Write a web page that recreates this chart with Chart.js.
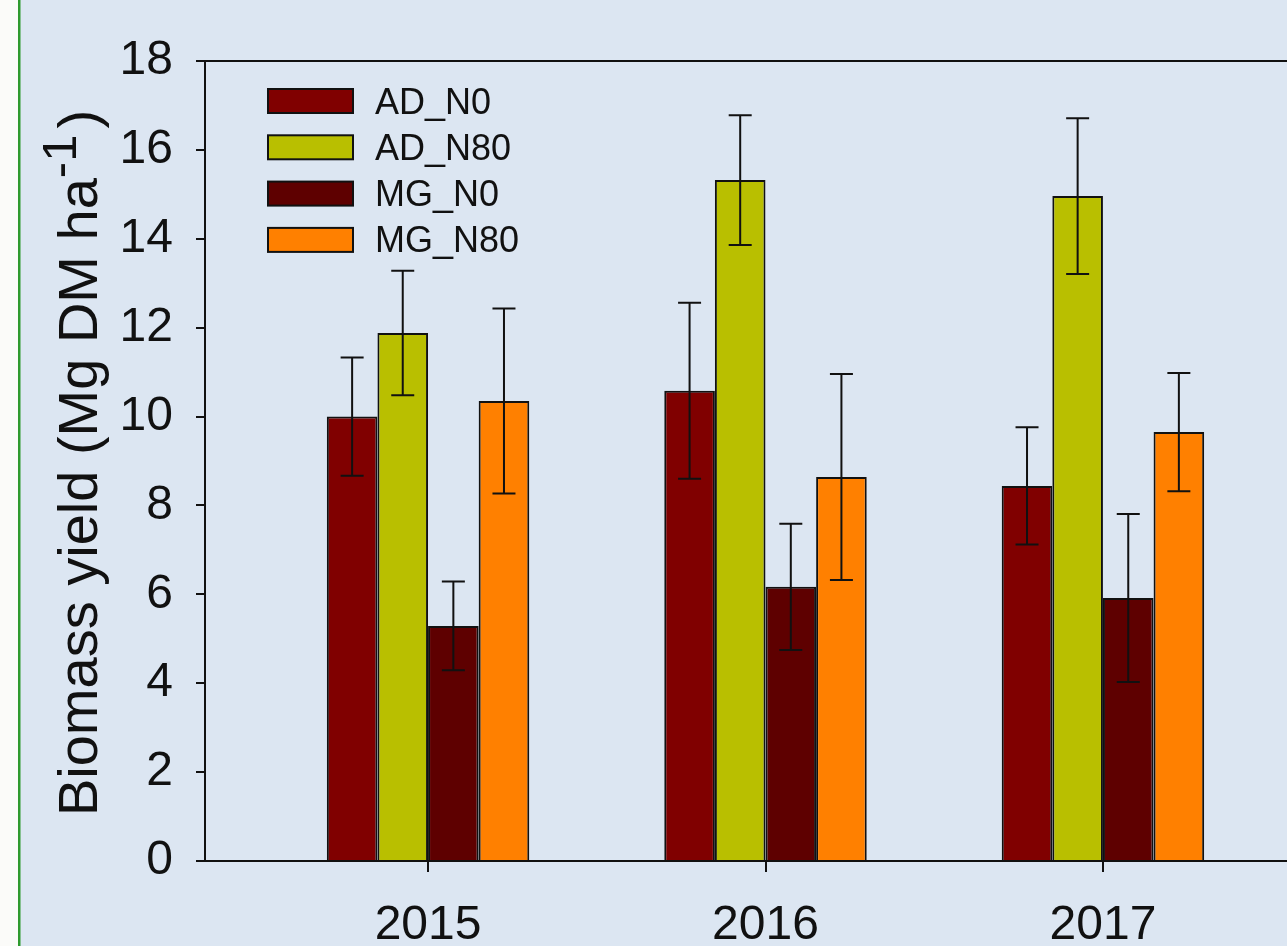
<!DOCTYPE html>
<html>
<head>
<meta charset="utf-8">
<script src="https://cdn.jsdelivr.net/npm/chart.js@4.4.1/dist/chart.umd.min.js"></script>
<style>
  html, body { margin: 0; padding: 0; overflow: hidden; background: #dce6f2; }
  #wrap { position: relative; width: 1287px; height: 946px; overflow: hidden; }
  canvas { position: absolute; left: 0; top: 0; }
</style>
</head>
<body>
<div id="wrap"><canvas id="c" width="1340" height="946"></canvas></div>
<script>
// Harvest years and treatment series (biomass, Mg DM/ha) with standard errors
const years = [2015, 2016, 2017];
const seriesNames = ['AD_N0', 'AD_N80', 'MG_N0', 'MG_N80'];
const adN0 = [10.0, 10.58, 8.44];
const adN80 = [11.88, 15.32, 14.96];
const mgN0 = [5.29, 6.17, 5.92];
const mgN80 = [10.35, 8.64, 9.65];
const adN0Err = [1.33, 1.98, 1.32];
const adN80Err = [1.40, 1.46, 1.75];
const mgN0Err = [1.00, 1.42, 1.89];
const mgN80Err = [2.08, 2.32, 1.33];
const yTickValues = [0, 2, 4, 6, 8, 10, 12, 14, 16, 18];
const seriesColors = ['#800000', '#b9bf00', '#5e0000', '#ff8000'];

const values = [adN0, adN80, mgN0, mgN80];
const errors = [adN0Err, adN80Err, mgN0Err, mgN80Err];
const FONT = '"Liberation Sans", Arial, sans-serif';
const INK = '#111111';

const datasets = seriesNames.map((name, i) => ({
  label: name,
  data: years.map((yr, j) => ({ x: yr, y: values[i][j] })),
  errors: errors[i],
  backgroundColor: seriesColors[i],
  borderColor: INK,
  borderWidth: 2,
  categoryPercentage: 0.6,
  barPercentage: 1.0
}));

// page background, framing strip on the left, top frame line
const backdrop = {
  id: 'backdrop',
  beforeDraw(chart) {
    const ctx = chart.ctx;
    ctx.save();
    ctx.fillStyle = '#dce6f2';
    ctx.fillRect(0, 0, chart.width, chart.height);
    ctx.fillStyle = '#fbfbf9';
    ctx.fillRect(0, 0, 18, chart.height);
    ctx.fillStyle = '#2e9a2e';
    ctx.fillRect(18, 0, 2.5, chart.height);
    ctx.restore();
  },
  afterDraw(chart) {
    const { ctx, chartArea } = chart;
    ctx.save();
    ctx.strokeStyle = INK;
    ctx.lineWidth = 2;
    ctx.beginPath();
    ctx.moveTo(chartArea.left, chartArea.top);
    ctx.lineTo(chartArea.right, chartArea.top);
    ctx.moveTo(chartArea.right, chartArea.top);
    ctx.lineTo(chartArea.right, chartArea.bottom);
    ctx.stroke();
    ctx.restore();
  }
};

// symmetric error bars with caps on every bar
const errorBars = {
  id: 'errorBars',
  afterDatasetsDraw(chart) {
    const ctx = chart.ctx;
    const yScale = chart.scales.y;
    ctx.save();
    ctx.strokeStyle = INK;
    ctx.lineWidth = 2;
    chart.data.datasets.forEach((ds, i) => {
      const meta = chart.getDatasetMeta(i);
      meta.data.forEach((bar, j) => {
        const v = ds.data[j].y;
        const e = ds.errors[j];
        const yTop = yScale.getPixelForValue(v + e);
        const yBot = yScale.getPixelForValue(v - e);
        const x = bar.x;
        const cap = 11.5;
        ctx.beginPath();
        ctx.moveTo(x, yTop);
        ctx.lineTo(x, yBot);
        ctx.moveTo(x - cap, yTop);
        ctx.lineTo(x + cap, yTop);
        ctx.moveTo(x - cap, yBot);
        ctx.lineTo(x + cap, yBot);
        ctx.stroke();
      });
    });
    ctx.restore();
  }
};

// legend inside the plot, upper left
const insetLegend = {
  id: 'insetLegend',
  afterDraw(chart) {
    const ctx = chart.ctx;
    ctx.save();
    ctx.font = '36px ' + FONT;
    ctx.textBaseline = 'alphabetic';
    ctx.textAlign = 'left';
    chart.data.datasets.forEach((ds, i) => {
      const cy = 101 + i * 46.3;
      ctx.fillStyle = ds.backgroundColor;
      ctx.fillRect(268, cy - 12, 85, 24);
      ctx.strokeStyle = INK;
      ctx.lineWidth = 2;
      ctx.strokeRect(268, cy - 12, 85, 24);
      ctx.fillStyle = INK;
      ctx.fillText(ds.label, 375, cy + 12.5);
    });
    ctx.restore();
  }
};

// rotated y-axis title with a superscript exponent
const yTitle = {
  id: 'yTitle',
  afterDraw(chart) {
    const ctx = chart.ctx;
    const main = 'Biomass yield (Mg DM ha';
    const sup = '-1';
    const tail = ')';
    const mainFont = '56px ' + FONT;
    const supFont = '49px ' + FONT;
    ctx.save();
    ctx.font = mainFont;
    const wMain = ctx.measureText(main).width;
    const wTail = ctx.measureText(tail).width;
    ctx.font = supFont;
    const wSup = ctx.measureText(sup).width;
    const total = wMain + wSup + 6 + wTail;
    ctx.translate(97, 463);
    ctx.rotate(-Math.PI / 2);
    ctx.fillStyle = INK;
    ctx.textBaseline = 'alphabetic';
    ctx.textAlign = 'left';
    let x = -total / 2;
    ctx.font = mainFont;
    ctx.fillText(main, x, 0);
    x += wMain;
    ctx.font = supFont;
    ctx.fillText(sup, x, -21);
    x += wSup + 6;
    ctx.font = mainFont;
    ctx.fillText(tail, x, 0);
    ctx.restore();
  }
};

new Chart(document.getElementById('c'), {
  type: 'bar',
  data: { datasets },
  options: {
    responsive: false,
    animation: false,
    devicePixelRatio: 1,
    layout: { padding: { left: 0, top: 61, right: 14, bottom: 0 } },
    plugins: { legend: { display: false }, tooltip: { enabled: false } },
    scales: {
      x: {
        type: 'linear',
        offset: false,
        min: 2014.339,
        max: 2017.661,
        afterBuildTicks(scale) { scale.ticks = years.map(v => ({ value: v })); },
        afterFit(scale) { scale.height = 85; },
        border: { display: true, color: INK, width: 2 },
        grid: { display: true, offset: false, drawOnChartArea: false, drawTicks: true, tickLength: 11, color: INK, lineWidth: 2 },
        ticks: {
          autoSkip: false,
          maxRotation: 0,
          padding: 25,
          color: INK,
          font: { family: FONT, size: 48 },
          callback: (v) => String(v)
        }
      },
      y: {
        min: 0,
        max: 18,
        afterBuildTicks(scale) { scale.ticks = yTickValues.map(v => ({ value: v })); },
        afterFit(scale) { scale.width = 205; },
        border: { display: true, color: INK, width: 2 },
        grid: { display: true, drawOnChartArea: false, drawTicks: true, tickLength: 9, color: INK, lineWidth: 2 },
        ticks: {
          padding: 23,
          color: INK,
          font: { family: FONT, size: 48 }
        }
      }
    }
  },
  plugins: [backdrop, errorBars, insetLegend, yTitle]
});
</script>
</body>
</html>
